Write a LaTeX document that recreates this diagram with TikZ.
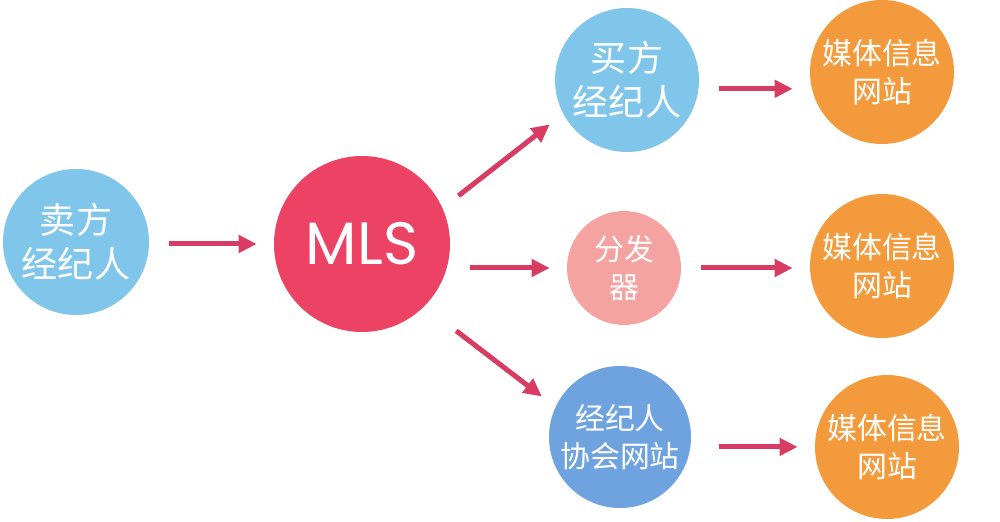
\documentclass[tikz,border=0pt]{standalone}
\usepackage{fontspec}
\newfontfamily\cjk{Noto Sans CJK SC}
\newfontfamily\mlsfont{Poppins}
\usetikzlibrary{calc,positioning,arrows.meta}

\definecolor{agentblue}{HTML}{80C6EA}
\definecolor{mlsred}{HTML}{EC4264}
\definecolor{splitpink}{HTML}{F5A3A0}
\definecolor{assocblue}{HTML}{6FA3DF}
\definecolor{mediaorange}{HTML}{F39B3C}
\definecolor{arrowred}{HTML}{D83C62}

\begin{document}
\begin{tikzpicture}[x=0.2mm,y=-0.2mm
    , every node/.style={circle,inner sep=0pt,text=white,align=center}
    , bigtext/.style={font=\cjk\fontsize{20.5}{25}\selectfont}
    , smalltext/.style={font=\cjk\fontsize{17}{22}\selectfont}
    , flow/.style={draw=arrowred,line width=1mm,-{Triangle[length=3.6mm,width=3.4mm]}
        ,shorten <=4mm,shorten >=3.4mm}
]
    \useasboundingbox[fill=white] (0,0) rectangle (1000,522);

    % Left side
    \node[bigtext,fill=agentblue,minimum size=29.2mm] (seller) at (76,242) {卖方\\经纪人};
    \node[fill=mlsred,minimum size=35.2mm,font=\mlsfont\fontsize{34}{40}\selectfont]
        (mls) at (362,244) {MLS};

    % Middle column
    \node[bigtext,fill=agentblue,minimum size=28.8mm] (buyer) at (627,80) {买方\\经纪人};
    \node[smalltext,fill=splitpink,minimum size=22.8mm] (split) at (624,268) {分发\\器};
    \node[smalltext,fill=assocblue,minimum size=28.4mm] (assoc) at (620,437) {经纪人\\协会网站};

    % Media sites
    \node[smalltext,fill=mediaorange,minimum size=28.8mm] (media1) at (882,72) {媒体信息\\网站};
    \node[smalltext,fill=mediaorange,minimum size=28.8mm] (media2) at (882,266) {媒体信息\\网站};
    \node[smalltext,fill=mediaorange,minimum size=28.8mm] (media3) at (887,447) {媒体信息\\网站};

    % Arrows
    \draw[flow] (seller.east |- mls.west) -- (mls.west);
    \draw[flow] (mls.24) -- (buyer.208);
    \draw[flow] (mls.east |- split.west) -- (split.west);
    \draw[flow,shorten <=8mm] (mls.-45) -- (assoc.155);

    \draw[flow] (buyer.-7) -- (buyer.-7 -| media1.west);
    \draw[flow] (split.east) -- (split.east -| media2.west);
    \draw[flow,shorten <=5.6mm] (assoc.-8) -- (assoc.-8 -| media3.west);
\end{tikzpicture}
\end{document}
